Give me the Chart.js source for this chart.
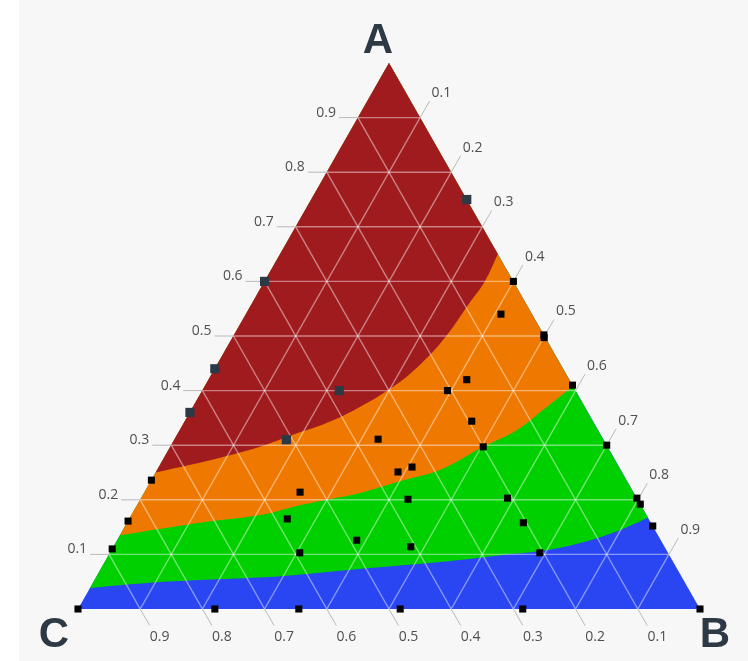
<!DOCTYPE html>
<html>
<head>
<meta charset="utf-8">
<title>Ternary diagram</title>
<script src="https://cdn.jsdelivr.net/npm/chart.js@4.4.1/dist/chart.umd.min.js"></script>
<style>
  html, body { margin: 0; padding: 0; background: #fff; }
  #ternaryChart { display: block; background: linear-gradient(to right, #fff 19px, #f7f7f7 19px); }
</style>
</head>
<body>
<canvas id="ternaryChart" width="748" height="661"></canvas>
<script>
// corners and tick values
const cornerNames = ['A', 'B', 'C'];
const tickValues = [0.1, 0.2, 0.3, 0.4, 0.5, 0.6, 0.7, 0.8, 0.9];

// sample points as fractions of A and B (C = 1 - A - B)
const darkA = [0.75, 0.60, 0.44, 0.36, 0.40, 0.31];
const darkB = [0.25, 0.00, 0.00, 0.00, 0.22, 0.18];

const blackA = [0.60, 0.54, 0.502, 0.497, 0.42, 0.40, 0.41, 0.344, 0.297, 0.30,
                0.311, 0.26, 0.251, 0.236, 0.214, 0.201, 0.203, 0.203, 0.192, 0.161,
                0.165, 0.158, 0.152, 0.11, 0.126, 0.114, 0.103, 0.103,
                0, 0, 0, 0, 0, 0];
const blackB = [0.40, 0.41, 0.498, 0.501, 0.415, 0.394, 0.59, 0.461, 0.503, 0.70,
                0.327, 0.407, 0.389, 0.0, 0.25, 0.43, 0.589, 0.797, 0.808, 0.0,
                0.254, 0.637, 0.848, 0.0, 0.385, 0.478, 0.305, 0.691,
                0, 0.22, 0.355, 0.518, 0.715, 1];

// zone boundaries, left edge -> right edge
const redEdgeA = [0.25, 0.277, 0.297, 0.319, 0.341, 0.37, 0.407, 0.447, 0.50, 0.56, 0.60, 0.65];
const redEdgeB = [0.0, 0.09, 0.144, 0.186, 0.23, 0.268, 0.303, 0.326, 0.342, 0.349, 0.354, 0.35];

const orangeEdgeA = [0.135, 0.158, 0.172, 0.187, 0.20, 0.2125, 0.234, 0.255, 0.297, 0.328, 0.364, 0.408];
const orangeEdgeB = [0.0, 0.117, 0.207, 0.252, 0.30, 0.347, 0.40, 0.455, 0.503, 0.542, 0.565, 0.592];

const greenEdgeA = [0.0385, 0.048, 0.053, 0.060, 0.075, 0.086, 0.099, 0.106, 0.121, 0.141, 0.167];
const greenEdgeB = [0.0, 0.092, 0.17, 0.295, 0.432, 0.539, 0.634, 0.69, 0.747, 0.793, 0.833];

const toXY = (a, b) => ({ x: b + a / 2, y: a });

// polygon above a boundary: curve, then up the right edge to A and back down the left edge
function regionAbove(edgeA, edgeB) {
    const pts = edgeA.map((a, i) => toXY(a, edgeB[i]));
    const first = pts[0];
    const last = pts[pts.length - 1];
    const apex = toXY(1, 0);
    return pts.concat([last, apex, apex, first]);
}

function region(label, data, color, tension) {
    return {
        label: label,
        data: data,
        showLine: true,
        fill: 'shape',
        backgroundColor: color,
        borderWidth: 0,
        pointRadius: 0,
        tension: tension
    };
}

const gridPlugin = {
    id: 'ternaryGrid',
    afterDatasetDraw(chart, args) {
        if (chart.data.datasets[args.index].label !== 'red') return;
        const ctx = chart.ctx;
        const xs = chart.scales.x, ys = chart.scales.y;
        const px = (a, b) => ({ x: xs.getPixelForValue(b + a / 2), y: ys.getPixelForValue(a) });
        const line = (p, q) => { ctx.beginPath(); ctx.moveTo(p.x, p.y); ctx.lineTo(q.x, q.y); ctx.stroke(); };

        ctx.save();
        ctx.strokeStyle = 'rgba(255, 255, 255, 0.45)';
        ctx.lineWidth = 1.4;
        tickValues.forEach(v => {
            line(px(v, 0), px(v, 1 - v));
            line(px(0, v), px(1 - v, v));
            line(px(0, 1 - v), px(1 - v, 0));
        });

        // ticks and labels outside the triangle
        ctx.strokeStyle = '#b9b9b9';
        ctx.lineWidth = 1;
        ctx.fillStyle = '#4f4f4f';
        ctx.font = '14px "Open Sans"';
        ctx.textBaseline = 'middle';
        tickValues.forEach(v => {
            const t = v.toFixed(1);
            // A on the left edge
            let p = px(v, 0);
            line(p, { x: p.x - 19, y: p.y });
            ctx.textAlign = 'right';
            ctx.fillText(t, p.x - 22, p.y - 5);
            // B on the right edge
            p = px(1 - v, v);
            let e = { x: p.x + 9.5, y: p.y - 16.5 };
            line(p, e);
            ctx.textAlign = 'left';
            ctx.fillText(t, e.x + 2, e.y - 8);
            // C on the bottom edge
            p = px(0, 1 - v);
            e = { x: p.x + 9.5, y: p.y + 16.5 };
            line(p, e);
            ctx.textAlign = 'center';
            ctx.fillText(t, e.x + 10, e.y + 12);
        });

        // corner names
        ctx.fillStyle = '#2d3a45';
        ctx.font = 'bold 42px "Liberation Sans"';
        ctx.textAlign = 'center';
        ctx.textBaseline = 'alphabetic';
        const pa = px(1, 0), pb = px(0, 1), pc = px(0, 0);
        ctx.fillText(cornerNames[0], pa.x - 11, pa.y - 10);
        ctx.fillText(cornerNames[1], pb.x + 15, pb.y + 38);
        ctx.fillText(cornerNames[2], pc.x - 24, pc.y + 38);
        ctx.restore();
    }
};

const ternaryChart = new Chart(document.getElementById('ternaryChart'), {
    type: 'scatter',
    data: {
        datasets: [
            {
                label: 'dark',
                data: darkA.map((a, i) => toXY(a, darkB[i])),
                pointStyle: 'rect',
                pointRadius: 6.5,
                pointBorderWidth: 0,
                backgroundColor: '#2d3a45',
                clip: 12
            },
            {
                label: 'black',
                data: blackA.map((a, i) => toXY(a, blackB[i])),
                pointStyle: 'rect',
                pointRadius: 5,
                pointBorderWidth: 0,
                backgroundColor: '#000',
                clip: 12
            },
            region('red', regionAbove(redEdgeA, redEdgeB), '#a01b1e', 0.4),
            region('orange', regionAbove(orangeEdgeA, orangeEdgeB), '#ef7800', 0.4),
            region('green', regionAbove(greenEdgeA, greenEdgeB), '#00d000', 0.4),
            region('blue', [toXY(0, 0), toXY(0, 1), toXY(1, 0)], '#2946f2', 0)
        ]
    },
    options: {
        responsive: false,
        animation: false,
        layout: { padding: { left: 78, right: 48, top: 63, bottom: 52 } },
        scales: {
            x: { type: 'linear', min: 0, max: 1, display: false },
            y: { type: 'linear', min: 0, max: 1, display: false }
        },
        plugins: {
            legend: { display: false },
            tooltip: { enabled: false }
        }
    },
    plugins: [gridPlugin]
});
</script>
</body>
</html>
